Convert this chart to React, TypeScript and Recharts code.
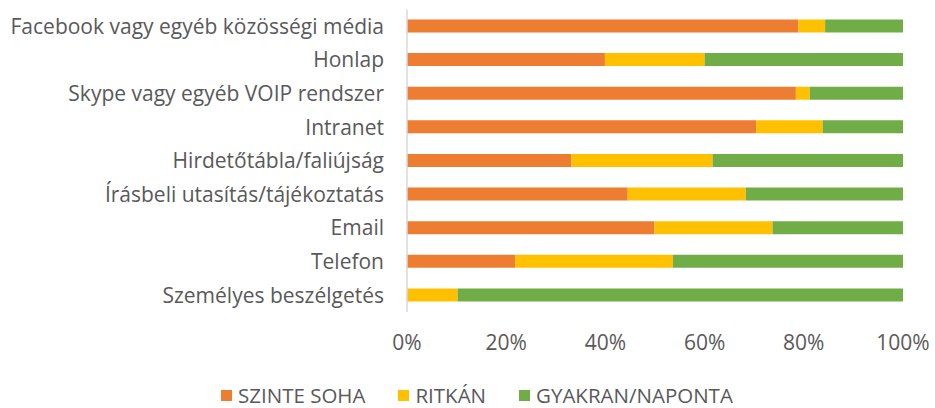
import React from "react";
import { BarChart, Bar, XAxis, YAxis, Legend } from "recharts";

const categories = [
  "Facebook vagy egyéb közösségi média",
  "Honlap",
  "Skype vagy egyéb VOIP rendszer",
  "Intranet",
  "Hirdetőtábla/faliújság",
  "Írásbeli utasítás/tájékoztatás",
  "Email",
  "Telefon",
  "Személyes beszélgetés",
];

const szinteSoha = [78.9, 39.9, 78.4, 70.4, 33.1, 44.5, 49.9, 21.8, 0];
const ritkan = [5.4, 20.1, 2.8, 13.4, 28.5, 23.8, 23.8, 31.8, 10.2];
const gyakran = [15.7, 40.0, 18.8, 16.2, 38.4, 31.7, 26.3, 46.4, 89.8];

const xTicks = [0, 20, 40, 60, 80, 100];

const series = [
  { key: "szinteSoha", name: "SZINTE SOHA", color: "#ED7D31" },
  { key: "ritkan", name: "RITKÁN", color: "#FFC000" },
  { key: "gyakran", name: "GYAKRAN/NAPONTA", color: "#70AD47" },
];

const data = categories.map((name, i) => ({
  name,
  szinteSoha: szinteSoha[i],
  ritkan: ritkan[i],
  gyakran: gyakran[i],
}));

const FONT = "'Open Sans', sans-serif";

function LegendContent() {
  return (
    <div
      style={{
        display: "flex",
        justifyContent: "flex-start",
        height: 46,
        paddingTop: 22,
        paddingLeft: 221,
        boxSizing: "border-box",
        fontFamily: FONT,
        fontSize: 20.5,
        color: "#595959",
        whiteSpace: "nowrap",
      }}
    >
      {series.map((s, i) => (
        <div
          key={s.key}
          style={{
            display: "flex",
            alignItems: "center",
            marginLeft: i === 0 ? 0 : 33,
            height: 22,
            flexShrink: 0,
          }}
        >
          <span
            style={{
              width: 11,
              height: 11,
              background: s.color,
              display: "inline-block",
              marginRight: 6,
              flexShrink: 0,
            }}
          />
          <span>{s.name}</span>
        </div>
      ))}
    </div>
  );
}

export default function App() {
  return (
    <div style={{ position: "absolute", left: 0, top: 0, background: "#fff" }}>
      <BarChart
        width={935}
        height={408}
        data={data}
        layout="vertical"
        margin={{ top: 9.5, right: 32, left: 0, bottom: 0 }}
        style={{ fontFamily: FONT }}
      >
        <XAxis
          type="number"
          domain={[0, 100]}
          ticks={xTicks}
          tickFormatter={(v) => `${v}%`}
          axisLine={false}
          tickLine={false}
          tickSize={0}
          tickMargin={23}
          height={50}
          tick={{ fill: "#595959", fontSize: 21 }}
        />
        <YAxis
          type="category"
          dataKey="name"
          width={407}
          tickLine={false}
          tickSize={0}
          tickMargin={23}
          axisLine={{ stroke: "#d9d9d9", strokeWidth: 1.5 }}
          tick={{ fill: "#595959", fontSize: 21 }}
          interval={0}
        />
        <Legend
          verticalAlign="bottom"
          content={<LegendContent />}
          wrapperStyle={{ left: 0, width: 935 }}
        />
        {series.map((s) => (
          <Bar
            key={s.key}
            dataKey={s.key}
            name={s.name}
            stackId="a"
            fill={s.color}
            barSize={13}
            isAnimationActive={false}
          />
        ))}
      </BarChart>
    </div>
  );
}
